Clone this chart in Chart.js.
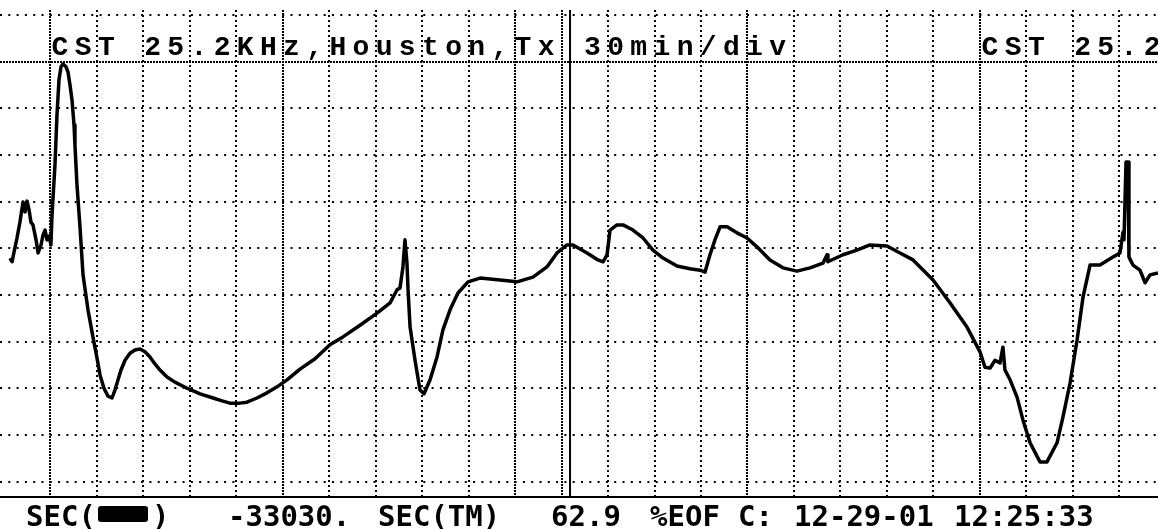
<!DOCTYPE html>
<html>
<head>
<meta charset="utf-8">
<title>CST 25.2KHz Houston</title>
<script src="https://cdn.jsdelivr.net/npm/chart.js@4.4.1/dist/chart.umd.min.js"></script>
<style>
  html, body { margin: 0; padding: 0; background: #fff; }
  canvas { display: block; }
</style>
</head>
<body>
<canvas id="trace" width="1158" height="529"></canvas>
<script>
// time in minutes from the first heavy grid line (30 min/div)
const timeMin = [
  -25.8, -24.5, -23.2, -21.3, -19.4, -17.4, -16.1, -14.8, -13.5, -12.3,
  -11.0, -9.0, -7.7, -5.8, -4.5, -3.2, -1.9, -0.6, 0.6, 1.3,
  3.2, 4.5, 5.8, 7.1, 8.4, 10.3, 11.6, 12.9, 14.2, 15.5,
  16.1, 17.4, 19.4, 21.3, 24.5, 27.7, 30.3, 32.3, 34.8, 37.4,
  40.0, 41.9, 43.9, 45.8, 48.4, 51.6, 54.8, 58.1, 61.3, 64.5,
  67.7, 71.0, 75.5, 80.6, 88.4, 96.8, 105.2, 111.0, 116.1, 122.6,
  127.1, 133.5, 140.0, 146.5, 152.9, 161.3, 171.0, 180.6, 189.0, 200.0,
  211.0, 219.4, 223.9, 225.8, 227.7, 229.0, 230.3, 231.0, 232.3, 235.5,
  238.7, 241.3, 245.2, 249.7, 253.5, 258.1, 263.2, 269.7, 277.4, 290.3,
  301.3, 311.6, 320.6, 327.1, 333.5, 337.4, 346.5, 353.5, 356.8, 359.4,
  361.3, 365.8, 369.7, 376.1, 382.6, 389.0, 395.5, 404.5, 412.9, 419.4,
  422.6, 425.8, 429.0, 432.3, 436.8, 443.2, 449.7, 456.1, 464.5, 472.9,
  481.9, 490.3, 498.7, 501.3, 501.9, 511.6, 520.6, 529.0, 540.0, 548.4,
  556.8, 569.7, 580.6, 591.6, 600.0, 603.2, 606.5, 609.7, 612.9, 614.8,
  616.1, 619.4, 623.9, 627.7, 632.3, 638.7, 643.2, 649.7, 653.5, 658.1,
  662.6, 666.5, 671.0, 677.4, 685.8, 690.3, 692.3, 692.9, 694.2, 695.5,
  696.1, 698.7, 703.2, 706.5, 709.7, 714.8
];
// signal level in divisions above the lowest grid line
const level = [
  4.79, 4.71, 4.92, 5.22, 5.56, 5.99, 5.78, 6.01, 5.82, 5.56,
  5.50, 5.18, 4.90, 5.07, 5.28, 5.39, 5.18, 5.26, 5.07, 5.71,
  6.78, 7.86, 8.61, 8.89, 8.95, 8.89, 8.78, 8.50, 8.18, 7.64,
  7.21, 6.36, 5.43, 4.43, 3.68, 3.10, 2.65, 2.28, 2.00, 1.83,
  1.79, 1.96, 2.18, 2.39, 2.60, 2.75, 2.82, 2.84, 2.78, 2.67,
  2.52, 2.39, 2.24, 2.13, 2.00, 1.88, 1.79, 1.73, 1.68, 1.68,
  1.70, 1.79, 1.90, 2.03, 2.18, 2.41, 2.63, 2.93, 3.10, 3.35,
  3.61, 3.83, 4.11, 4.15, 4.60, 5.18, 4.68, 4.11, 3.31, 2.60,
  1.96, 1.88, 2.18, 2.67, 3.25, 3.68, 4.04, 4.28, 4.36, 4.32,
  4.28, 4.38, 4.60, 4.90, 5.07, 5.07, 4.90, 4.75, 4.71, 4.86,
  5.39, 5.50, 5.50, 5.39, 5.22, 4.96, 4.79, 4.62, 4.56, 4.53,
  4.49, 4.86, 5.18, 5.46, 5.46, 5.33, 5.22, 5.03, 4.75, 4.58,
  4.51, 4.58, 4.68, 4.86, 4.71, 4.86, 4.96, 5.07, 5.05, 4.90,
  4.75, 4.32, 3.83, 3.31, 2.78, 2.45, 2.43, 2.60, 2.54, 2.88,
  2.39, 2.18, 1.81, 1.32, 0.83, 0.42, 0.42, 0.83, 1.38, 2.11,
  3.03, 3.96, 4.64, 4.64, 4.81, 4.90, 5.35, 5.18, 6.85, 6.85,
  4.81, 4.64, 4.53, 4.26, 4.43, 4.47
];
const cursorTime = [335.5];
const heavyTimes = [0, 150, 300, 330, 450, 600];
const heavyLevels = [9];
const levelTicks = [0, 1, 2, 3, 4, 5, 6, 7, 8, 9, 10];
const timeTicks = [];
for (let t = 0; t <= 690; t += 30) timeTicks.push(t);

const header = "CST 25.2KHz,Houston,Tx 30min/div";
const headerRepeat = "CST 25.2KHz";
const footer = [
  ["SEC(", 26], [")", 152], ["-33030.", 228], ["SEC(TM)", 378],
  ["62.9", 551], ["%EOF", 650], ["C:", 738], ["12-29-01", 794], ["12:25:33", 954]
];

const X_MIN = -32.26, X_MAX = 714.84;
const Y_MIN = -0.332, Y_MAX = 10.107;

function drawSpaced(ctx, text, x, y, pitch) {
    [...text].forEach((c, i) => ctx.fillText(c, x + i * pitch, y));
}

const overlay = {
    id: "overlay",
    afterDraw(chart) {
        const ctx = chart.ctx;
        ctx.save();
        ctx.fillStyle = "#000";
        ctx.textBaseline = "alphabetic";

        // header, fixed pitch
        ctx.textAlign = "center";
        ctx.font = "bold 28px 'Liberation Mono'";
        drawSpaced(ctx, header, 60, 55, 23.15);
        drawSpaced(ctx, headerRepeat, 990, 55, 23.15);

        // status line
        ctx.textAlign = "left";
        ctx.font = "bold 29px 'DejaVu Sans Mono'";
        footer.forEach(([txt, x]) => ctx.fillText(txt, x, 526));
        ctx.beginPath();
        ctx.roundRect(98, 506, 50, 16, 3);
        ctx.fill();
        ctx.restore();
    }
};

const points = timeMin.map((t, i) => ({ x: t, y: level[i] }));

new Chart(document.getElementById("trace"), {
    type: "line",
    data: {
        datasets: [{
            data: points,
            borderColor: "#000",
            borderWidth: 3.5,
            borderJoinStyle: "round",
            pointRadius: 0,
            tension: 0,
        }, {
            data: [{ x: cursorTime[0], y: Y_MIN }, { x: cursorTime[0], y: Y_MAX }],
            borderColor: "#000",
            borderWidth: 2,
            pointRadius: 0,
        }],
    },
    options: {
        responsive: false,
        animation: false,
        layout: { padding: { top: 10, bottom: 32, left: 0, right: 0 } },
        plugins: { legend: { display: false }, tooltip: { enabled: false } },
        scales: {
            x: {
                type: "linear",
                min: X_MIN,
                max: X_MAX,
                afterBuildTicks: (s) => { s.ticks = timeTicks.map(v => ({ value: v })); },
                ticks: { display: false },
                grid: { color: "#000", lineWidth: 2, drawTicks: false },
                border: {
                    display: true, color: "#000", width: 2,
                    dash: (c) => heavyTimes.includes(c.tick && c.tick.value) ? [2, 1] : [2, 3],
                },
            },
            y: {
                type: "linear",
                min: Y_MIN,
                max: Y_MAX,
                afterBuildTicks: (s) => { s.ticks = levelTicks.map(v => ({ value: v })); },
                ticks: { display: false },
                grid: { color: "#000", lineWidth: 2, drawTicks: false },
                border: {
                    display: false,
                    dash: (c) => heavyLevels.includes(c.tick && c.tick.value) ? [2, 1] : [2, 6.3],
                },
            },
        },
    },
    plugins: [overlay],
});
</script>
</body>
</html>
